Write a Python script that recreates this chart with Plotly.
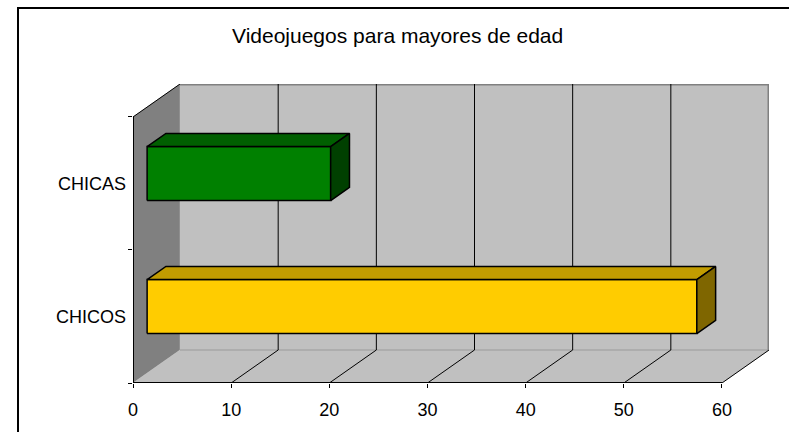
import plotly.graph_objects as go

# ---- data ----
categories = ["CHICOS", "CHICAS"]
values = [56, 18.7]
x_tickvals = [0, 10, 20, 30, 40, 50, 60]
title_text = "Videojuegos para mayores de edad"

front_colors = ["#FFCC00", "#008000"]
top_colors = ["#C29C00", "#005F00"]
side_colors = ["#7F6600", "#004000"]

# ---- 3D geometry (oblique projection, in data units) ----
XMAX = 60
DX = 4.79      # depth shift along value axis
DY = 0.248     # depth shift along category axis
D0, D1 = 0.30, 0.70   # bar depth span
HALF = 0.203          # half bar thickness (category units)

W, H = 789, 432
PX_LEFT, PX_X60 = 133, 722
PY_BOTTOM, PY_FRONT_TOP = 383, 117
ppx = (PX_X60 - PX_LEFT) / XMAX
ppy = (PY_BOTTOM - PY_FRONT_TOP) / 2.0
XR = [0, XMAX + DX]
YR = [0, 2 + DY]
l = PX_LEFT
r = W - (PX_LEFT + XR[1] * ppx)
b = H - PY_BOTTOM
t = PY_BOTTOM - YR[1] * ppy


def P(v, y, d):
    return (v + d * DX, y + d * DY)


def poly(points, fill, line_color="black", lw=1.0):
    xs = [p[0] for p in points] + [points[0][0]]
    ys = [p[1] for p in points] + [points[0][1]]
    return go.Scatter(x=xs, y=ys, mode="lines", fill="toself", fillcolor=fill,
                      line=dict(color=line_color, width=lw), hoverinfo="skip",
                      showlegend=False)


def seg(points, color, lw):
    xs = [p[0] for p in points]
    ys = [p[1] for p in points]
    return go.Scatter(x=xs, y=ys, mode="lines", line=dict(color=color, width=lw),
                      hoverinfo="skip", showlegend=False)


fig = go.Figure()

# walls
fig.add_trace(poly([P(0, 0, 0), P(0, 0, 1), P(0, 2, 1), P(0, 2, 0)], "#808080", "#808080", 0.5))
fig.add_trace(poly([P(0, 0, 1), P(XMAX, 0, 1), P(XMAX, 2, 1), P(0, 2, 1)], "#C0C0C0", "#C0C0C0", 0.5))
fig.add_trace(poly([P(0, 0, 0), P(XMAX, 0, 0), P(XMAX, 0, 1), P(0, 0, 1)], "#C0C0C0", "#C0C0C0", 0.5))

# back wall edges
fig.add_trace(seg([P(0, 2, 1), P(XMAX, 2, 1), P(XMAX, 0, 1)], "#808080", 3))
fig.add_trace(seg([P(0, 0, 1), P(XMAX, 0, 1)], "#9A9A9A", 1))

# gridlines (floor diagonal + back wall vertical)
gx, gy = [], []
for v in x_tickvals[1:-1]:
    for p in (P(v, 0, 0), P(v, 0, 1), P(v, 2, 1)):
        gx.append(p[0]); gy.append(p[1])
    gx.append(None); gy.append(None)
fig.add_trace(go.Scatter(x=gx, y=gy, mode="lines", line=dict(color="black", width=1),
                         hoverinfo="skip", showlegend=False))

# front edges
fig.add_trace(seg([P(0, 2, 1), P(0, 2, 0), P(0, 0, 0)], "black", 1))
fig.add_trace(seg([P(0, 0, 0), P(0, 2, 0)], "black", 2))
fig.add_trace(seg([P(0, 0, 0), P(XMAX, 0, 0)], "black", 2))
fig.add_trace(seg([P(XMAX, 0, 0), P(XMAX, 0, 1)], "black", 1))

# bars
for i, (cat, val) in enumerate(zip(categories, values)):
    yc = i + 0.5
    y0, y1 = yc - HALF, yc + HALF
    fig.add_trace(poly([P(0, y0, D0), P(val, y0, D0), P(val, y1, D0), P(0, y1, D0)],
                       front_colors[i], "black", 1.5))
    fig.add_trace(poly([P(0, y1, D0), P(val, y1, D0), P(val, y1, D1), P(0, y1, D1)],
                       top_colors[i], "black", 1.5))
    fig.add_trace(poly([P(val, y0, D0), P(val, y0, D1), P(val, y1, D1), P(val, y1, D0)],
                       side_colors[i], "black", 1.5))

font = dict(family="Liberation Sans, Arial, sans-serif", size=18, color="black")

fig.update_layout(
    width=W, height=H,
    margin=dict(l=l, r=r, t=t, b=b, autoexpand=False),
    paper_bgcolor="white", plot_bgcolor="white",
    font=font,
    showlegend=False,
    xaxis=dict(range=XR, showgrid=False, zeroline=False, showline=False,
               tickmode="array", tickvals=x_tickvals,
               ticktext=[str(v) for v in x_tickvals],
               ticks="outside", ticklen=4, tickcolor="black", tickwidth=1,
               ticklabelstandoff=6, fixedrange=True),
    yaxis=dict(range=YR, showgrid=False, zeroline=False, showline=False,
               tickmode="array", tickvals=[i + 0.5 for i in range(len(categories))],
               ticktext=categories, ticks="", ticklabelstandoff=6,
               minor=dict(tickmode="array", tickvals=[0, 1, 2], ticks="outside",
                          ticklen=4, tickcolor="black", tickwidth=1, showgrid=False),
               fixedrange=True),
    annotations=[dict(text=title_text, xref="paper", yref="paper",
                      x=(398 - l) / (W - l - r), y=(PY_BOTTOM - 36) / (PY_BOTTOM - t),
                      xanchor="center", yanchor="middle", showarrow=False,
                      font=dict(family="Liberation Sans, Arial, sans-serif", size=21, color="black"))],
    shapes=[dict(type="rect", xref="paper", yref="paper",
                 x0=(18 - l) / (W - l - r), x1=(800 - l) / (W - l - r),
                 y0=(PY_BOTTOM - 445) / (PY_BOTTOM - t), y1=(PY_BOTTOM - 8) / (PY_BOTTOM - t),
                 line=dict(color="black", width=2), layer="above")],
)

fig.write_html("out.html", config={"displayModeBar": False, "staticPlot": True},
               post_script="document.body.style.margin='0px';")
